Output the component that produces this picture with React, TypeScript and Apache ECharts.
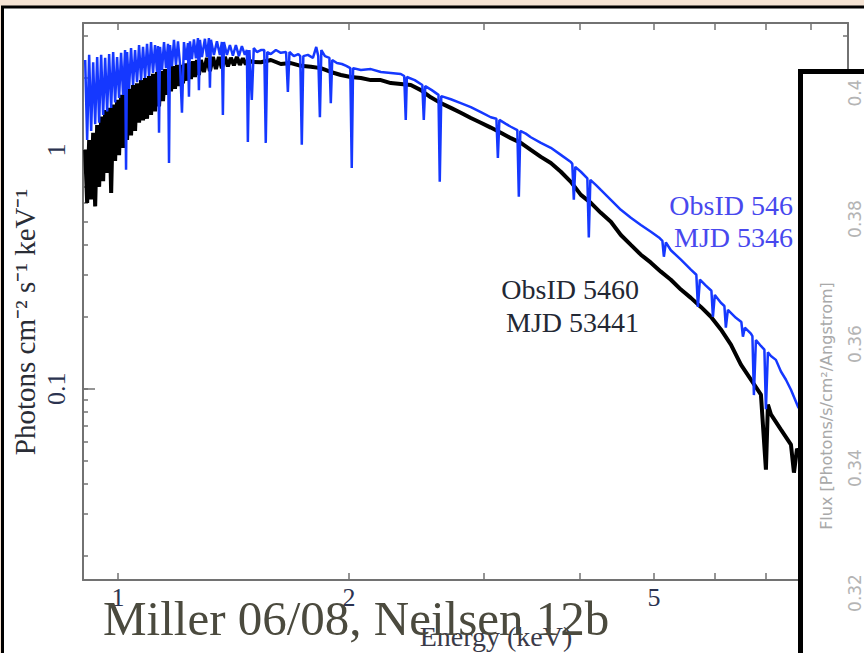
import React, { useEffect, useRef } from 'react';
import * as echarts from 'echarts';

// ---- axis ticks / labels ----
const X_MIN = 0.9;
const X_MAX = 8.95;
const Y_MIN = 0.0158;
const Y_MAX = 3.4;
const X_TICKS = [1, 2, 3, 4, 5, 6, 7, 8, 9];
const X_LABELS = [1, 2, 5];
const Y_TICKS = [0.02, 0.03, 0.04, 0.05, 0.06, 0.07, 0.08, 0.09, 0.1, 0.2, 0.3, 0.4, 0.5, 0.6, 0.7, 0.8, 0.9, 1, 2, 3];
const Y_MAJOR = [0.1, 1];
const Y_LABELS = [0.1, 1];

// ---- ObsID 5460 (black) : energy (keV) / photons cm^-2 s^-1 keV^-1 ----
const BLACK_E = [0.9059, 0.9113, 0.9168, 0.9223, 0.9279, 0.9335, 0.9391, 0.9447, 0.9504, 0.9561, 0.9619, 0.9677, 0.9735, 0.9794, 0.9853, 0.9911, 0.997, 1.003, 1.009, 1.0151, 1.0212, 1.0273, 1.0335, 1.0397, 1.046, 1.0523, 1.0586, 1.065, 1.0714, 1.0778, 1.0843, 1.0908, 1.0974, 1.104, 1.1106, 1.1173, 1.124, 1.1308, 1.1376, 1.1444, 1.1513, 1.1582, 1.1652, 1.1722, 1.1792, 1.1863, 1.1934, 1.2006, 1.2078, 1.2151, 1.2224, 1.2297, 1.2371, 1.2445, 1.252, 1.2595, 1.2671, 1.2747, 1.2824, 1.294, 1.3057, 1.3175, 1.3294, 1.3414, 1.3535, 1.3657, 1.3781, 1.3905, 1.4031, 1.4158, 1.4286, 1.4415, 1.4545, 1.4677, 1.4809, 1.4898,
  1.535, 1.582, 1.63, 1.68, 1.731, 1.784, 1.838, 1.894, 1.952, 2.011, 2.073, 2.136, 2.201, 2.268, 2.337, 2.408, 2.482, 2.557, 2.635, 2.716, 2.798, 2.884, 2.972, 3.062, 3.156, 3.252, 3.351, 3.453, 3.559, 3.667, 3.779, 3.894, 4.013, 4.135, 4.261, 4.391, 4.525, 4.663, 4.805, 4.952, 5.103, 5.258, 5.419, 5.584, 5.754, 5.93, 6.11, 6.297, 6.489, 6.687, 6.891, 6.995, 7.037, 7.101, 7.318, 7.541, 7.609, 7.68, 7.771];
const BLACK_F = [1.0, 0.6, 1.1, 0.62, 1.18, 0.58, 1.27, 0.7, 1.38, 0.74, 1.47, 0.8, 1.5, 0.66, 1.55, 0.9, 1.62, 0.95, 1.7, 1.02, 1.72, 1.1, 1.8, 1.15, 1.87, 1.2, 1.9, 1.3, 1.96, 1.33, 2.0, 1.35, 2.04, 1.4, 2.08, 1.45, 2.12, 1.52, 2.14, 1.6, 2.18, 1.7, 2.2, 1.76, 2.24, 1.8, 2.27, 1.85, 2.27, 1.9, 2.3, 1.95, 2.33, 1.98, 2.35, 2.02, 2.38, 2.06, 2.38, 2.12, 2.43, 2.14, 2.45, 2.18, 2.45, 2.2, 2.45, 2.24, 2.43, 2.26, 2.45, 2.27, 2.42, 2.28, 2.4, 2.34,
  2.33, 2.38, 2.29, 2.31, 2.25, 2.23, 2.2, 2.12, 2.06, 2.02, 2.0, 1.96, 1.96, 1.905, 1.89, 1.87, 1.78, 1.66, 1.57, 1.5, 1.43, 1.36, 1.3, 1.24, 1.18, 1.12, 1.07, 1.0, 0.935, 0.882, 0.81, 0.735, 0.648, 0.6, 0.545, 0.5, 0.44, 0.4, 0.364, 0.337, 0.309, 0.286, 0.26, 0.24, 0.22, 0.2, 0.177, 0.153, 0.126, 0.109, 0.0944, 0.0458, 0.0857, 0.078, 0.0674, 0.0583, 0.0445, 0.056, 0.053];

// ---- ObsID 546 (blue) ----
const BLUE_E = [0.9059, 0.9113, 0.9168, 0.9223, 0.9279, 0.9335, 0.9391, 0.9447, 0.9504, 0.9561, 0.9619, 0.9677, 0.9735, 0.9794, 0.9853, 0.9911, 0.997, 1.003, 1.009, 1.0151, 1.0212, 1.0242, 1.0273, 1.0335, 1.0397, 1.046, 1.0523, 1.0586, 1.065, 1.0714, 1.0778, 1.0843, 1.0908, 1.0974, 1.104, 1.1106, 1.1173, 1.124, 1.1274, 1.1308, 1.1342, 1.141, 1.1479, 1.1547, 1.1617, 1.1652, 1.1687, 1.1757, 1.1827, 1.1898, 1.197, 1.2042, 1.2114, 1.2187, 1.226, 1.2334, 1.2371, 1.2408, 1.2483, 1.2558, 1.2633, 1.2709, 1.2747, 1.2785, 1.2863, 1.2979, 1.3057, 1.3136, 1.3175, 1.3215, 1.3334, 1.3455, 1.3576, 1.3657, 1.3698, 1.374, 1.3864, 1.399, 1.4116, 1.4243, 1.4372, 1.4502, 1.4633, 1.4721, 1.4765, 1.4832,
  1.494, 1.503, 1.517, 1.535, 1.551, 1.558, 1.565, 1.582, 1.606, 1.63, 1.656, 1.665, 1.673, 1.695, 1.718, 1.728, 1.736, 1.744, 1.768, 1.795, 1.813, 1.824, 1.833, 1.841, 1.861, 1.886, 1.894, 1.902, 1.929, 1.958, 1.984, 2.008, 2.017, 2.025, 2.073, 2.136, 2.201, 2.268, 2.337, 2.361, 2.372, 2.38, 2.437, 2.493, 2.504, 2.515, 2.565, 2.617, 2.627, 2.639, 2.716, 2.798, 2.884, 2.972, 3.062, 3.114, 3.128, 3.142, 3.204, 3.252, 3.316, 3.331, 3.346, 3.401, 3.453, 3.559, 3.667, 3.779, 3.894, 3.911, 3.929, 3.946, 4.013, 4.092, 4.11, 4.129, 4.197, 4.261, 4.391, 4.525, 4.663, 4.805, 4.952, 5.073, 5.126, 5.149, 5.18, 5.258, 5.419, 5.584, 5.676, 5.703, 5.737, 5.841, 5.939, 5.966, 6.0, 6.11, 6.175, 6.202, 6.24, 6.392, 6.498, 6.528, 6.566, 6.687, 6.717, 6.747, 6.788, 6.891, 6.963, 6.995, 7.037, 7.101, 7.208, 7.318, 7.429, 7.541, 7.703, 7.82];
const BLUE_F = [2.38, 1.1, 2.5, 1.2, 2.33, 1.28, 2.45, 1.3, 2.5, 1.4, 2.43, 1.45, 2.52, 1.5, 2.57, 1.58, 2.45, 1.65, 2.55, 1.7, 2.62, 0.825, 2.57, 1.8, 2.67, 1.87, 2.62, 1.92, 2.75, 1.96, 2.7, 2.0, 2.78, 2.04, 2.83, 2.1, 2.75, 2.12, 2.72, 1.18, 2.7, 2.16, 2.83, 2.2, 2.78, 0.882, 2.75, 2.24, 2.89, 2.27, 2.85, 2.3, 1.43, 2.83, 2.38, 2.8, 1.67, 2.85, 2.4, 2.9, 2.42, 2.94, 1.78, 2.89, 2.45, 2.92, 2.45, 2.94, 1.82, 2.89, 2.5, 2.85, 2.5, 2.83, 1.4, 2.83, 2.5, 2.75, 2.48, 2.75, 2.47, 2.72, 2.5, 2.62, 1.08, 2.62,
  1.62, 2.67, 2.57, 2.62, 2.62, 1.07, 2.57, 2.52, 2.62, 2.55, 2.57, 1.75, 2.57, 2.47, 2.52, 2.47, 1.05, 2.47, 2.5, 2.43, 2.7, 2.47, 1.37, 2.62, 2.47, 2.43, 1.57, 2.38, 2.31, 2.29, 2.25, 2.2, 0.84, 2.2, 2.16, 2.18, 2.12, 2.1, 2.08, 2.04, 1.335, 2.02, 1.96, 1.87, 1.335, 1.85, 1.78, 1.7, 0.735, 1.68, 1.63, 1.57, 1.51, 1.44, 1.37, 1.35, 0.926, 1.335, 1.285, 1.25, 1.21, 0.636, 1.2, 1.17, 1.13, 1.07, 1.02, 0.953, 0.89, 0.874, 0.618, 0.849, 0.81, 0.76, 0.43, 0.749, 0.714, 0.68, 0.618, 0.561, 0.52, 0.485, 0.454, 0.43, 0.416, 0.357, 0.41, 0.38, 0.347, 0.315, 0.3, 0.22, 0.286, 0.27, 0.257, 0.2, 0.247, 0.229, 0.222, 0.18, 0.214, 0.198, 0.19, 0.165, 0.18, 0.17, 0.166, 0.094, 0.16, 0.151, 0.1456, 0.082, 0.142, 0.137, 0.132, 0.118, 0.109, 0.099, 0.084, 0.078];

// ---- right (inset) panel axis labels ----
const INSET_LABELS = ['0.4', '0.38', '0.36', '0.34', '0.32'];
const INSET_LABEL_Y = [93, 219, 344, 468, 593];

const AXIS_COLOR = '#727272';
const TICK_LABEL_COLOR = '#2b3350';
const SERIF = '"Liberation Serif", "Times New Roman", serif';

const fmt = (v: number) => String(Number(Number(v).toPrecision(2)));

function xAxisDef(position: 'top' | 'bottom', labels: boolean) {
  return {
    type: 'log',
    logBase: 10,
    min: X_MIN,
    max: X_MAX,
    position,
    axisLine: { show: true, onZero: false, lineStyle: { color: AXIS_COLOR, width: 2 } },
    axisTick: { show: true, inside: true, length: 7, customValues: X_TICKS, lineStyle: { color: AXIS_COLOR, width: 1.5 } },
    axisLabel: labels
      ? { show: true, customValues: X_LABELS, formatter: fmt, margin: 4, color: TICK_LABEL_COLOR, fontFamily: SERIF, fontSize: 26 }
      : { show: false },
    splitLine: { show: false },
    minorTick: { show: false },
    minorSplitLine: { show: false },
  };
}

function yAxisDef(position: 'left' | 'right', ticks: number[], len: number, line: boolean, labels: boolean) {
  return {
    type: 'log',
    logBase: 10,
    min: Y_MIN,
    max: Y_MAX,
    position,
    axisLine: { show: line, onZero: false, lineStyle: { color: AXIS_COLOR, width: 2 } },
    axisTick: { show: true, inside: true, length: len, customValues: ticks, lineStyle: { color: AXIS_COLOR, width: 1.5 } },
    axisLabel: labels
      ? { show: true, customValues: Y_LABELS, formatter: fmt, rotate: 90, margin: 14, color: TICK_LABEL_COLOR, fontFamily: SERIF, fontSize: 26 }
      : { show: false },
    splitLine: { show: false },
    minorTick: { show: false },
    minorSplitLine: { show: false },
  };
}

function txt(text: string, x: number, y: number, font: string, fill: string, align: string, z: number, rotation = 0) {
  return {
    type: 'text',
    x,
    y,
    rotation,
    z,
    silent: true,
    style: { text, font, fill, align, verticalAlign: 'middle' },
  };
}

export default function App() {
  const ref = useRef<HTMLDivElement>(null);

  useEffect(() => {
    const chart = echarts.init(ref.current!, null, { renderer: 'svg' });
    const blackData = BLACK_E.map((e, i) => [e, BLACK_F[i]]);
    const blueData = BLUE_E.map((e, i) => [e, BLUE_F[i]]);

    const graphics: any[] = [
      { type: 'rect', z: -10, silent: true, shape: { x: 2.5, y: 7, width: 900, height: 700 }, style: { fill: '#ffffff', stroke: '#000000', lineWidth: 3 } },
      { type: 'rect', z: 50, silent: true, shape: { x: 800.5, y: 71.5, width: 100, height: 640 }, style: { fill: '#ffffff', stroke: '#000000', lineWidth: 5 } },
      ...INSET_LABELS.map((t, i) => txt(t, 855, INSET_LABEL_Y[i], '17px "DejaVu Sans", sans-serif', '#b4b4b4', 'center', 51, Math.PI / 2)),
      txt('Flux [Photons/s/cm²/Angstrom]', 826, 406, '16px "DejaVu Sans", sans-serif', '#a9a9a9', 'center', 51, Math.PI / 2),
      txt('Photons cm⁻² s⁻¹ keV⁻¹', 25, 322, '29px ' + SERIF, '#2a2d36', 'center', 20, Math.PI / 2),
      txt('ObsID 546', 793, 205, '28px ' + SERIF, '#4848ee', 'right', 20),
      txt('MJD 5346', 793, 237, '28px ' + SERIF, '#4848ee', 'right', 20),
      txt('ObsID 5460', 639, 289, '28px ' + SERIF, '#232834', 'right', 20),
      txt('MJD 53441', 639, 322, '28px ' + SERIF, '#232834', 'right', 20),
      txt('Energy (keV)', 496, 636, '28px ' + SERIF, '#3a3a48', 'center', 20),
      txt('Miller 06/08, Neilsen 12b', 103, 618, '49px ' + SERIF, '#4b4a3e', 'left', 60),
    ];

    chart.setOption({
      animation: false,
      backgroundColor: '#f5e3d3',
      grid: { left: 83, right: 16, top: 23, bottom: 73, containLabel: false },
      xAxis: [xAxisDef('bottom', true), xAxisDef('top', false)],
      yAxis: [
        yAxisDef('left', Y_TICKS, 5, true, true),
        yAxisDef('left', Y_MAJOR, 12, false, false),
        yAxisDef('right', Y_TICKS, 5, true, false),
        yAxisDef('right', Y_MAJOR, 12, false, false),
      ],
      series: [
        {
          type: 'line',
          name: 'ObsID 5460',
          data: blackData,
          xAxisIndex: 0,
          yAxisIndex: 0,
          showSymbol: false,
          symbol: 'none',
          silent: true,
          z: 3,
          lineStyle: { color: '#000000', width: 4, join: 'bevel' },
        },
        {
          type: 'line',
          name: 'ObsID 546',
          data: blueData,
          xAxisIndex: 0,
          yAxisIndex: 0,
          showSymbol: false,
          symbol: 'none',
          silent: true,
          z: 4,
          lineStyle: { color: '#1538ff', width: 2.5, join: 'bevel' },
        },
      ],
      graphic: { elements: graphics },
    });

    return () => chart.dispose();
  }, []);

  return <div ref={ref} style={{ position: 'fixed', left: 0, top: 0, width: 864, height: 653 }} />;
}
